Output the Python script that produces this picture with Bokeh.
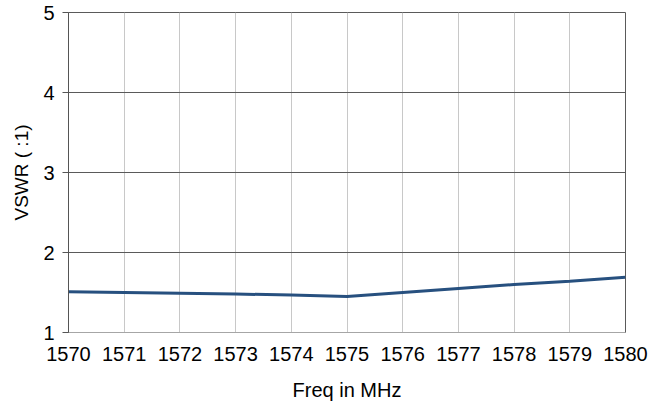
from bokeh.plotting import figure
from bokeh.models import Range1d, FixedTicker
from bokeh.embed import file_html
from bokeh.resources import INLINE

freq = [1570, 1571, 1572, 1573, 1574, 1575, 1576, 1577, 1578, 1579, 1580]
vswr = [1.51, 1.50, 1.49, 1.48, 1.47, 1.45, 1.50, 1.55, 1.60, 1.64, 1.69]
x_ticks = list(range(1570, 1581))
y_ticks = [1, 2, 3, 4, 5]

p = figure(width=665, height=404, output_backend="svg", toolbar_location=None,
           x_range=Range1d(1570, 1580), y_range=Range1d(1, 5),
           min_border_left=68, min_border_right=40, min_border_top=12, min_border_bottom=72)

p.line(freq, vswr, line_color="#27507f", line_width=3)

font = "Liberation Sans"
p.xaxis.ticker = FixedTicker(ticks=x_ticks)
p.yaxis.ticker = FixedTicker(ticks=y_ticks)
for ax in (p.xaxis[0], p.yaxis[0]):
    ax.major_label_text_font = font
    ax.major_label_text_font_size = "20px"
    ax.major_label_text_color = "#000000"
    ax.axis_label_text_font = font
    ax.axis_label_text_font_size = "20px"
    ax.axis_label_text_font_style = "normal"
    ax.axis_label_text_color = "#000000"
    ax.minor_tick_line_color = None
    ax.major_tick_in = 0

p.xaxis.axis_label = "Freq in MHz"
p.yaxis.axis_label = "VSWR ( :1)"
p.yaxis.axis_label_text_font_size = "19px"
p.xaxis.major_tick_out = 0
p.xaxis.axis_line_color = "#a6a6a6"
p.xaxis.major_label_standoff = 14
p.xaxis.axis_label_standoff = 15
p.yaxis.major_tick_out = 6
p.yaxis.major_tick_line_color = "#555555"
p.yaxis.axis_line_color = "#555555"
p.yaxis.major_label_standoff = 8
p.yaxis.axis_label_standoff = 8

p.xgrid.grid_line_color = "#c8c8c8"
p.ygrid.grid_line_color = "#5a5a5a"
p.outline_line_color = "#5a5a5a"
p.background_fill_color = "white"
p.border_fill_color = "white"

open("out.html", "w").write(file_html(p, INLINE))
